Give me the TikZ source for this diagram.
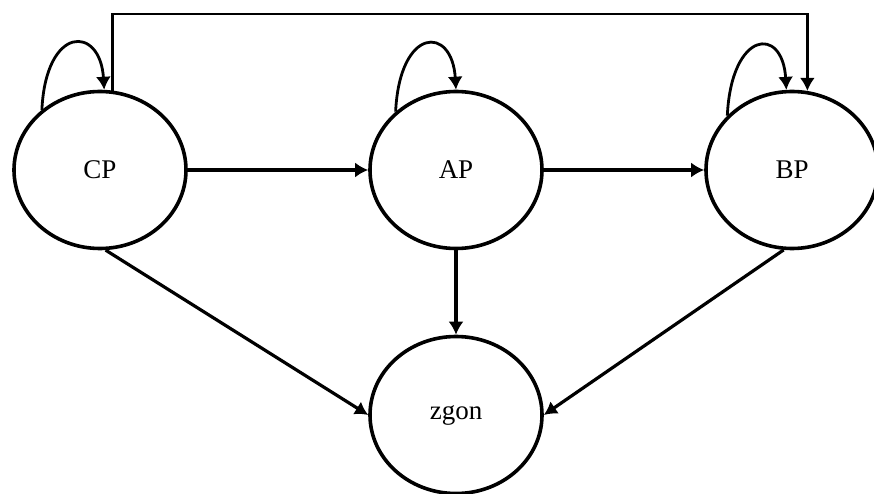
\documentclass[tikz,border=0pt]{standalone}
\usepackage{fontspec}
\setmainfont{Liberation Serif}
\usetikzlibrary{arrows.meta,shapes.geometric,calc}
\begin{document}
\begin{tikzpicture}[x=1pt,y=-1pt,
  state/.style={ellipse,draw,line width=3.6pt,minimum width=172pt,minimum height=157pt,inner sep=0pt,font=\fontsize{27}{30}\selectfont},
  arr/.style={line width=3.2pt,-{Latex[length=13pt,width=15pt]}}]
\useasboundingbox (0,0) rectangle (874,494);
\node[state] (CP) at (100,170) {CP};
\node[state] (AP) at (456,170) {AP};
\node[state] (BP) at (792,170) {BP};
\node[state] (zgon) at (456,415) {zgon};
\coordinate (top) at (0,14);
\draw[arr] (CP.east) -- (AP.west);
\draw[arr] (AP.east) -- (BP.west);
\draw[arr] (AP.south) -- (zgon.north);
\draw[arr] (CP.274) -- (zgon.west);
\draw[arr] (BP.264) -- (zgon.east);
\draw[arr,line width=2.6pt] (CP.81) -- (CP.81 |- top) -| (BP.79);
\draw[arr,line width=2.8pt] (CP.134) .. controls +(4,-85) and +(-4,-65) .. (CP.87);
\draw[arr,line width=2.8pt] (AP.136) .. controls +(4,-85) and +(-4,-65) .. (AP.90);
\draw[arr,line width=2.8pt] (BP.140) .. controls +(4,-85) and +(-4,-65) .. (BP.94);
\end{tikzpicture}
\end{document}
